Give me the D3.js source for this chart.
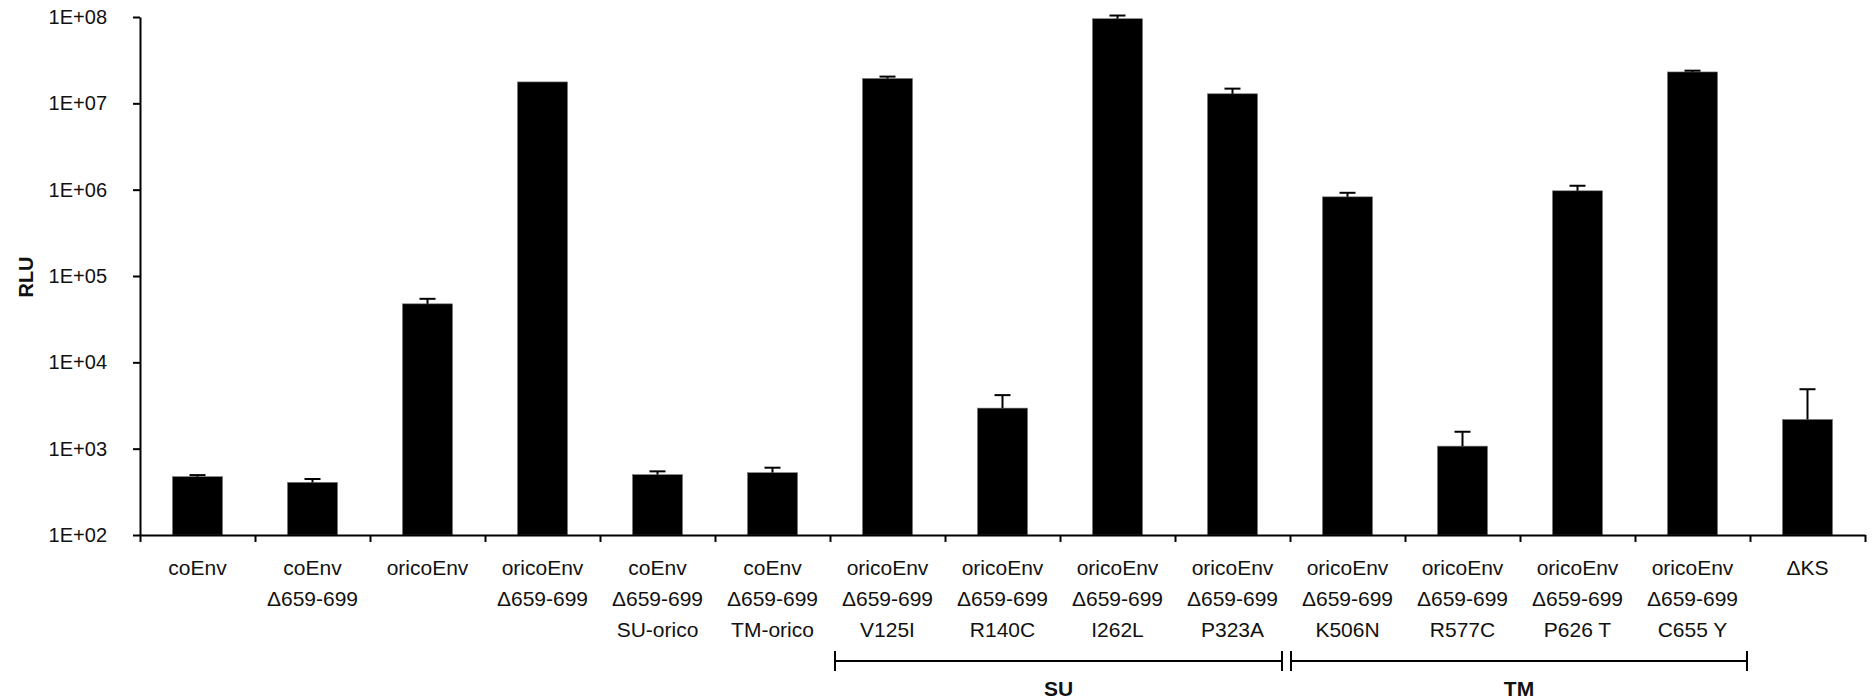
<!DOCTYPE html>
<html>
<head>
<meta charset="utf-8">
<script src="https://cdn.jsdelivr.net/npm/d3@7"></script>
<style>
  body { margin: 0; background: #fff; }
  text { font-family: "Liberation Sans", Arial, sans-serif; fill: #111; }
</style>
</head>
<body>
<div id="content"></div>
<script>
// data
var categories = [
  ["coEnv"],
  ["coEnv", "\u0394659-699"],
  ["oricoEnv"],
  ["oricoEnv", "\u0394659-699"],
  ["coEnv", "\u0394659-699", "SU-orico"],
  ["coEnv", "\u0394659-699", "TM-orico"],
  ["oricoEnv", "\u0394659-699", "V125I"],
  ["oricoEnv", "\u0394659-699", "R140C"],
  ["oricoEnv", "\u0394659-699", "I262L"],
  ["oricoEnv", "\u0394659-699", "P323A"],
  ["oricoEnv", "\u0394659-699", "K506N"],
  ["oricoEnv", "\u0394659-699", "R577C"],
  ["oricoEnv", "\u0394659-699", "P626 T"],
  ["oricoEnv", "\u0394659-699", "C655 Y"],
  ["\u0394KS"]
];
var values = [474, 407, 47600, 1.77e7, 500, 527, 1.94e7, 2950, 9.55e7, 1.29e7, 8.26e5, 1070, 9.7e5, 2.31e7, 2180];
var errors = [20, 38, 6800, 0, 46, 75, 1.0e6, 1220, 8.5e6, 1.9e6, 9.4e4, 500, 1.4e5, 8e5, 2700];
var yTicks = [1e2, 1e3, 1e4, 1e5, 1e6, 1e7, 1e8];
var groups = [
  {name: "SU", from: 6, to: 9},
  {name: "TM", from: 10, to: 13}
];

var width = 1874, height = 699;
var plotLeft = 140, plotRight = 1865, plotTop = 17, plotBottom = 535;

var svg = d3.select("#content").append("svg")
    .attr("width", width)
    .attr("height", height);

var x = d3.scaleBand()
    .domain(d3.range(categories.length))
    .range([plotLeft, plotRight])
    .paddingInner(0.565)
    .paddingOuter(0.2825);

// boundary scale for the category ticks
var xb = d3.scaleLinear().domain([0, categories.length]).range([plotLeft, plotRight]);

var y = d3.scaleLog()
    .domain([1e2, 1e8])
    .range([plotBottom, plotTop]);

var rows = values.map(function(v, i){ return {i: i, v: v, e: errors[i]}; });
function cx(d){ return x(d.i) + x.bandwidth() / 2; }

//Bars
svg.append("g").selectAll("rect")
    .data(rows)
  .enter().append("rect")
    .attr("x", function(d){ return x(d.i); })
    .attr("y", function(d){ return y(d.v); })
    .attr("width", x.bandwidth())
    .attr("height", function(d){ return plotBottom - y(d.v); })
    .attr("fill", "#000")
    .attr("stroke", "#777")
    .attr("stroke-width", 0.6);

//Error bars (upper only)
var eb = svg.append("g").selectAll("g")
    .data(rows.filter(function(d){ return d.e > 0; }))
  .enter().append("g");

eb.append("line")
    .attr("x1", cx)
    .attr("x2", cx)
    .attr("y1", function(d){ return y(d.v); })
    .attr("y2", function(d){ return y(d.v + d.e); })
    .attr("stroke", "#000")
    .attr("stroke-width", 2);

eb.append("line")
    .attr("x1", function(d){ return cx(d) - 8; })
    .attr("x2", function(d){ return cx(d) + 8; })
    .attr("y1", function(d){ return y(d.v + d.e); })
    .attr("y2", function(d){ return y(d.v + d.e); })
    .attr("stroke", "#000")
    .attr("stroke-width", 2);

//Y axis
var yAxis = svg.append("g")
    .attr("transform", "translate(" + plotLeft + ",0)")
    .call(d3.axisLeft(y)
      .tickValues(yTicks)
      .tickSize(7)
      .tickPadding(26)
      .tickSizeOuter(0)
      .tickFormat(function(d){ return "1E+0" + Math.round(Math.log10(d)); }));
yAxis.select(".domain").attr("stroke", "#000").attr("stroke-width", 2);
yAxis.selectAll(".tick line").attr("stroke", "#000").attr("stroke-width", 2);
yAxis.selectAll(".tick text")
    .style("font-family", "'Liberation Sans', Arial, sans-serif")
    .style("font-size", "20px")
    .attr("fill", "#111");

svg.append("text")
    .attr("transform", "translate(33,277) rotate(-90)")
    .attr("text-anchor", "middle")
    .style("font-size", "20px")
    .style("font-weight", "bold")
    .text("RLU");

//X axis
var xAxis = svg.append("g")
    .attr("transform", "translate(0," + plotBottom + ")")
    .call(d3.axisBottom(xb)
      .tickValues(d3.range(categories.length + 1))
      .tickSize(7)
      .tickSizeOuter(0)
      .tickFormat(""));
xAxis.select(".domain").attr("stroke", "#000").attr("stroke-width", 2);
xAxis.selectAll(".tick line").attr("stroke", "#000").attr("stroke-width", 2);

//Category labels
var lab = svg.append("g").selectAll("text")
    .data(categories)
  .enter().append("text")
    .attr("text-anchor", "middle")
    .style("font-size", "21px")
    .attr("transform", function(d, i){ return "translate(" + (x(i) + x.bandwidth() / 2) + ",575)"; });

lab.selectAll("tspan")
    .data(function(d){ return d; })
  .enter().append("tspan")
    .attr("x", 0)
    .attr("y", function(d, j){ return j * 31; })
    .text(function(d){ return d; });

//Group brackets
var by = 661;
var gb = svg.append("g").selectAll("g")
    .data(groups)
  .enter().append("g");

function bx1(g){ return g.name == "SU" ? xb(g.from) + 5 : xb(g.from) + 1; }
function bx2(g){ return g.name == "SU" ? xb(g.to + 1) - 8 : xb(g.to + 1) - 3; }

gb.append("path")
    .attr("d", function(g){
      return "M" + bx1(g) + "," + by + "H" + bx2(g)
           + "M" + bx1(g) + "," + (by - 10) + "V" + (by + 10)
           + "M" + bx2(g) + "," + (by - 10) + "V" + (by + 10);
    })
    .attr("fill", "none")
    .attr("stroke", "#000")
    .attr("stroke-width", 2);

gb.append("text")
    .attr("x", function(g){ return (bx1(g) + bx2(g)) / 2; })
    .attr("y", 696)
    .attr("text-anchor", "middle")
    .style("font-size", "21px")
    .style("font-weight", "bold")
    .text(function(g){ return g.name; });
</script>
</body>
</html>
